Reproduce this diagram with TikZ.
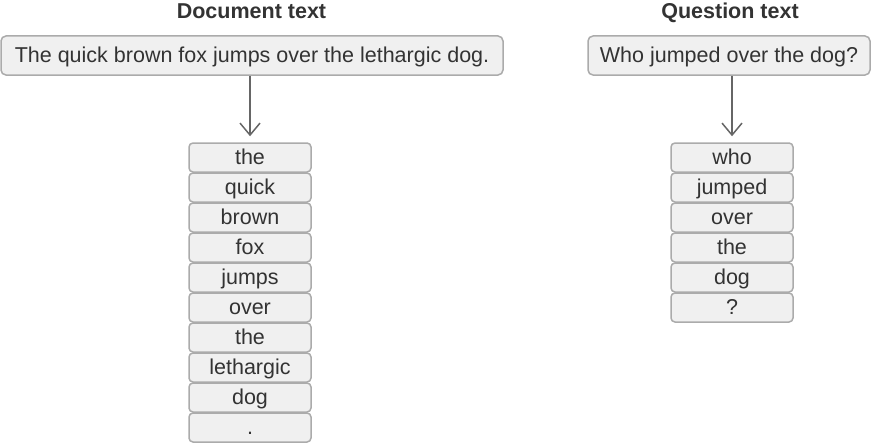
\documentclass[tikz,border=0pt]{standalone}
\usepackage{fontspec}
\setmainfont{Liberation Sans}
\usetikzlibrary{arrows.meta}
\definecolor{boxfill}{HTML}{F0F0F0}
\definecolor{boxline}{HTML}{ABABAB}
\definecolor{txt}{HTML}{333333}
\definecolor{arr}{HTML}{666666}
\begin{document}
\begin{tikzpicture}[x=1pt,y=-1pt,
 sentbox/.style={draw=boxline,fill=boxfill,line width=1.5pt,rounded corners=5pt,inner sep=0pt,text=txt,minimum height=39pt,text height=15.5pt,text depth=2pt,font=\fontsize{21.5}{24}\selectfont},
 tokbox/.style={draw=boxline,fill=boxfill,line width=1.5pt,rounded corners=4pt,minimum width=122pt,minimum height=29pt,inner sep=0pt,text=txt,text height=15.5pt,text depth=1.5pt,font=\fontsize{21.5}{24}\selectfont},
 title/.style={font=\bfseries\fontsize{21.5}{24}\selectfont,text=txt,anchor=base,inner sep=0pt},
 flow/.style={draw=arr,line width=1.5pt,shorten >=6pt,-{Straight Barb[length=12pt,width=20pt,line width=1.5pt]}}]
\useasboundingbox (0,0) rectangle (872,444);

\node[title] (tdoc) at (251.5,18.5) {Document text};
\node[title] (tq) at (730,18.5) {Question text};

\node[sentbox,minimum width=502pt] (doc) at (252,55.5) {The quick brown fox jumps over the lethargic dog.};
\node[sentbox,minimum width=282pt] (q) at (729,55.5) {Who jumped over the dog?};

\foreach \w [count=\i from 0] in {the,quick,brown,fox,jumps,over,the,lethargic,dog,.}
  \node[tokbox] (d\i) at (250,157.5+30*\i) {\w};
\foreach \w [count=\i from 0] in {who,jumped,over,the,dog,?}
  \node[tokbox] (k\i) at (732,157.5+30*\i) {\w};

\draw[flow] (doc.south -| d0.north) -- (d0.north);
\draw[flow] (q.south -| k0.north) -- (k0.north);
\end{tikzpicture}
\end{document}
